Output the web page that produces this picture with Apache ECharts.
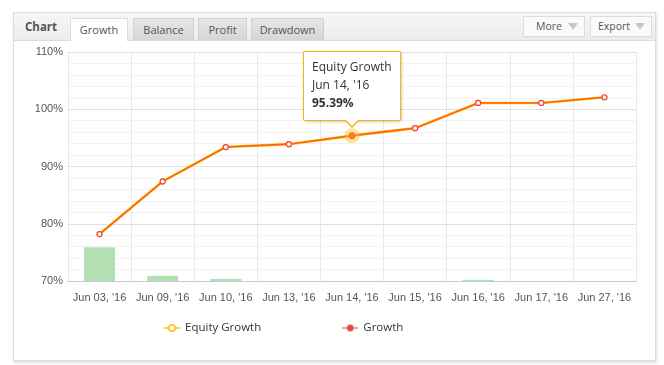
<!DOCTYPE html>
<html>
<head>
<meta charset="utf-8">
<script src="https://cdn.jsdelivr.net/npm/echarts@6/dist/echarts.min.js"></script>
<style>
  html, body { margin:0; padding:0; background:#fff; width:664px; height:365px; overflow:hidden; font-family:"Open Sans","Noto Sans",sans-serif; }
  #panel { position:absolute; left:13px; top:12px; width:641px; height:347px; border:1px solid #dcdcdc; box-shadow:1px 2px 3px rgba(0,0,0,0.12); background:#fff; }
  #header { position:absolute; left:0; top:0; right:0; height:27px; background:linear-gradient(#f7f7f7,#ececec); border-bottom:1px solid #dcdcdc; }
  .title { position:absolute; left:11px; top:6px; font-weight:bold; font-size:11.5px; color:#555; }
  .tab { position:absolute; top:5px; height:22px; line-height:22px; font-size:11px; color:#555; text-align:center; border:1px solid #d0d0d0; border-bottom:none; background:linear-gradient(#e6e6e6,#d6d6d6); box-sizing:border-box; }
  .tab.active { background:#fff; height:23px; border-color:#dcdcdc; }
  .btn { position:absolute; top:3px; height:21px; line-height:19px; font-size:10.5px; color:#555; border:1px solid #dcdcdc; background:#fafafa; box-sizing:border-box; padding-left:12px; }
  .btn .arr { position:absolute; right:6px; top:6px; width:0; height:0; border-left:5px solid transparent; border-right:5px solid transparent; border-top:7px solid #c8c8c8; }
  #chart { position:absolute; left:0; top:0; width:664px; height:365px; }
</style>
</head>
<body>
<div id="panel">
  <div id="header">
    <div class="title">Chart</div>
    <div class="tab active" style="left:56px;width:58px;">Growth</div>
    <div class="tab" style="left:119px;width:61px;">Balance</div>
    <div class="tab" style="left:184px;width:49px;">Profit</div>
    <div class="tab" style="left:237px;width:73px;">Drawdown</div>
    <div class="btn" style="left:509px;width:62px;">More<span class="arr"></span></div>
    <div class="btn" style="left:576px;width:62px;padding-left:7px;">Export<span class="arr"></span></div>
  </div>
</div>
<div id="chart"></div>
<script>
var categories = ["Jun 03, '16", "Jun 09, '16", "Jun 10, '16", "Jun 13, '16", "Jun 14, '16", "Jun 15, '16", "Jun 16, '16", "Jun 17, '16", "Jun 27, '16"];
var equityGrowth = [78.2, 87.4, 93.4, 93.9, 95.39, 96.7, 101.1, 101.1, 102.1];
var growth = [78.2, 87.4, 93.4, 93.9, 95.39, 96.7, 101.1, 101.1, 102.1];
var bars = [75.9, 70.9, 70.35, null, null, null, 70.2, null, null];
var yMin = 70, yMax = 110, yStep = 10;
var tipIndex = 4;

var chart = echarts.init(document.getElementById('chart'), null, {renderer:'canvas'});
var option = {
  animation: false,
  backgroundColor: 'transparent',
  grid: { left: 68, right: 28, top: 52, bottom: 84, containLabel: false },
  legend: {
    left: 158, top: 317, itemGap: 80, itemWidth: 16, itemHeight: 8,
    textStyle: { fontFamily: '"Open Sans","Noto Sans",sans-serif', fontSize: 11.5, color: '#333' },
    data: [
      { name: 'Equity Growth', itemStyle: { color: '#fff', borderColor: '#fcc419', borderWidth: 1.5 }, lineStyle: { color: '#ffd04a', width: 2 } },
      { name: 'Growth', itemStyle: { color: '#e8403a', borderColor: '#f07070', borderWidth: 1 }, lineStyle: { color: '#f29a9a', width: 2 } }
    ],
    selectedMode: false
  },
  tooltip: {
    trigger: 'item',
    alwaysShowContent: true,
    showContent: true,
    triggerOn: 'none',
    backgroundColor: 'rgba(255,255,255,0.95)',
    borderColor: '#f7b500',
    borderWidth: 1,
    padding: [6, 8, 8, 8],
    extraCssText: 'box-shadow:1px 1px 3px rgba(0,0,0,0.2);border-radius:2px;overflow:visible;',
    textStyle: { fontFamily: '"Open Sans","Noto Sans",sans-serif', fontSize: 12, color: '#333' },
    position: function (point, params, dom, rect, size) {
      return [point[0] - size.contentSize[0] / 2, point[1] - size.contentSize[1] - 15];
    },
    formatter: function (p) {
      return '<div style="line-height:18px;">Equity Growth<br/>' + categories[p.dataIndex] +
        '<br/><b>' + Number(equityGrowth[p.dataIndex]).toFixed(2) + '%</b></div>' +
        '<div style="position:absolute;left:50%;bottom:-8px;margin-left:-8px;width:0;height:0;border-left:8px solid transparent;border-right:8px solid transparent;border-top:8px solid #f7b500;"></div>' +
        '<div style="position:absolute;left:50%;bottom:-6px;margin-left:-7px;width:0;height:0;border-left:7px solid transparent;border-right:7px solid transparent;border-top:7px solid #fff;"></div>';
    }
  },
  xAxis: {
    type: 'category',
    data: categories,
    boundaryGap: true,
    axisLine: { show: true, lineStyle: { color: '#c0cad8', width: 1 } },
    axisTick: { show: false },
    axisLabel: { interval: 0, color: '#555', fontSize: 11, fontFamily: '"Liberation Sans",Arial,sans-serif', margin: 11 },
    splitLine: { show: true, lineStyle: { color: '#e8e8e8', width: 1 } }
  },
  yAxis: {
    type: 'value',
    min: yMin, max: yMax, interval: yStep,
    axisLine: { show: false },
    axisTick: { show: false },
    axisLabel: { formatter: '{value}%', color: '#555', fontSize: 11, fontFamily: '"Liberation Sans",Arial,sans-serif', margin: 5 },
    splitLine: { show: true, lineStyle: { color: '#e0e0e0', width: 1 } },
    minorTick: { show: false, splitNumber: 5 },
    minorSplitLine: { show: true, lineStyle: { color: '#f3f3f3', width: 1 } }
  },
  series: [
    {
      name: 'Bars', type: 'bar', data: bars, barWidth: 31,
      itemStyle: { color: '#b3e0b3' }, silent: true, z: 1
    },
    {
      name: 'Equity Growth', type: 'line', data: equityGrowth,
      lineStyle: { color: '#ffc21a', width: 2.6 },
      symbol: 'circle', symbolSize: 5, showSymbol: true,
      itemStyle: { color: '#fff', borderColor: '#fcc419', borderWidth: 1.2 },
      z: 3
    },
    {
      name: 'Growth', type: 'line', data: growth,
      lineStyle: { color: '#f85a0a', width: 1.6 },
      symbol: 'circle', symbolSize: 5,
      itemStyle: { color: '#fff', borderColor: '#f0413a', borderWidth: 1.2 },
      emphasis: { scale: 1.4, itemStyle: { color: '#ff3d2e', borderColor: 'rgba(255,190,30,0.45)', borderWidth: 8 } },
      z: 4
    }
  ]
};
chart.setOption(option);
chart.dispatchAction({ type: 'highlight', seriesIndex: 2, dataIndex: tipIndex });
chart.dispatchAction({ type: 'showTip', seriesIndex: 1, dataIndex: tipIndex });
</script>
</body>
</html>
